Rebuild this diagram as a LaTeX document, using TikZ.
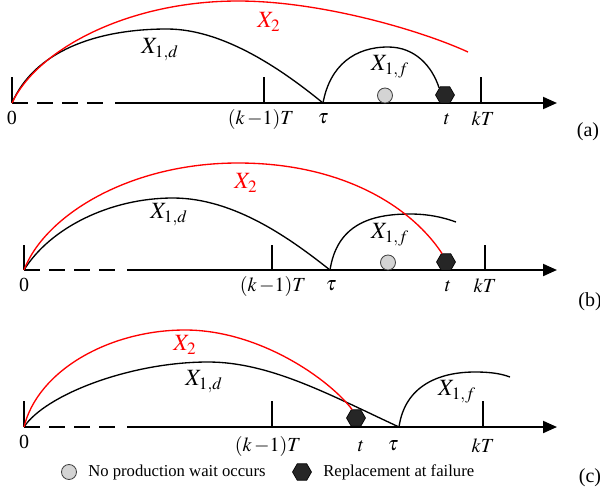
\documentclass[tikz,border=0pt]{standalone}
\usepackage{mathptmx}
\usepackage{fontspec}
\setmainfont{Liberation Serif}
\usetikzlibrary{arrows.meta,shapes.geometric}

\begin{document}
\begin{tikzpicture}[x=0.6pt, y=-0.6pt,
  axis/.style={line width=1.2pt},
  dashaxis/.style={line width=1.2pt, dash pattern=on 9.6pt off 5.4pt},
  tick/.style={line width=0.7pt},
  life/.style={line width=0.8pt},
  lifered/.style={line width=0.8pt, red},
  nowait/.style={circle, draw=black!75, fill=black!17, line width=0.5pt, minimum size=9pt, inner sep=0pt},
  repl/.style={regular polygon, regular polygon sides=6, draw, fill=black!85, line width=0.4pt, minimum size=11.4pt, inner sep=0pt},
  lbl/.style={font=\fontsize{12}{14}\selectfont, inner sep=0pt},
  curvelbl/.style={font=\fontsize{14}{16}\selectfont, inner sep=0pt},
  legend/.style={font=\fontsize{10}{12}\selectfont, anchor=west, inner sep=0pt}]
  \useasboundingbox (0,0) rectangle (600,493);

  % (a)
  \coordinate (oa) at (12,103);
  \coordinate (taua) at (323,103);
  \draw[tick] (12,77) -- (oa);
  \draw[dashaxis] (oa) -- (106,103);
  \draw[axis, -{Triangle[length=8.4pt,width=7.2pt]}] (115,103) -- (557,103);
  \draw[tick] (264,77) -- (264,103);
  \draw[tick] (481,77) -- (481,103);
  \node[nowait] (waita) at (385,95.5) {};
  \node[repl] (faila) at (445,95) {};
  \draw[life] (oa) .. controls (34,52) and (95,29) .. (167,29)
    .. controls (225,29) and (285,72) .. (taua);
  \draw[life] (taua) .. controls (330,65) and (355,47) .. (388,47)
    .. controls (415,47) and (432,66) .. (faila.130);
  \draw[lifered] (oa) .. controls (38,48) and (130,1) .. (238,1)
    .. controls (320,1) and (420,30) .. (468,52);
  \node[curvelbl, red] (x2a) at (269,22) {$X_2$};
  \node[curvelbl] (x1da) at (160,50) {$X_{1,d}$};
  \node[curvelbl] (x1fa) at (390,67) {$X_{1,f}$};
  \node[lbl] (za) at (12,118) {0};
  \node[lbl] (km1a) at (261,119) {$(k\,{-}1)T$};
  \node[lbl] (ta) at (323,119) {$\tau$};
  \node[lbl] (tta) at (447,119) {$t$};
  \node[lbl] (kta) at (483,119) {$kT$};
  \node[lbl] (capa) at (588,132) {(a)};

  % (b)
  \coordinate (ob) at (24,270);
  \coordinate (taub) at (330,270);
  \draw[tick] (24,245) -- (ob);
  \draw[dashaxis] (ob) -- (118,270);
  \draw[axis, -{Triangle[length=8.4pt,width=7.2pt]}] (127,270) -- (557,270);
  \draw[tick] (272,245) -- (272,270);
  \draw[tick] (485,245) -- (485,270);
  \node[nowait] (waitb) at (388,262.5) {};
  \node[repl] (failb) at (446,262) {};
  \draw[life] (ob) .. controls (50,228) and (110,198) .. (173,198)
    .. controls (235,198) and (292,240) .. (taub);
  \draw[life] (taub) .. controls (337,225) and (370,214) .. (410,214)
    .. controls (430,214) and (445,218) .. (456,222);
  \draw[lifered] (ob) .. controls (45,215) and (130,163) .. (238,163)
    .. controls (340,163) and (410,205) .. (failb.115);
  \node[curvelbl, red] (x2b) at (246,183) {$X_2$};
  \node[curvelbl] (x1db) at (169,215) {$X_{1,d}$};
  \node[curvelbl] (x1fb) at (390,235) {$X_{1,f}$};
  \node[lbl] (zb) at (24,285) {0};
  \node[lbl] (km1b) at (273,286) {$(k\,{-}1)T$};
  \node[lbl] (tb) at (331,286) {$\tau$};
  \node[lbl] (ttb) at (448,286) {$t$};
  \node[lbl] (ktb) at (485,286) {$kT$};
  \node[lbl] (capb) at (590,302) {(b)};

  % (c)
  \coordinate (oc) at (24,427);
  \coordinate (tauc) at (399,427);
  \draw[tick] (24,401) -- (oc);
  \draw[dashaxis] (oc) -- (118,427);
  \draw[axis, -{Triangle[length=8.4pt,width=7.2pt]}] (127,427) -- (557,427);
  \draw[tick] (272,401) -- (272,427);
  \draw[tick] (483,401) -- (483,427);
  \node[repl] (failc) at (356,418) {};
  \draw[life] (oc) .. controls (45,395) and (130,362) .. (208,362)
    .. controls (270,362) and (330,395) .. (tauc);
  \draw[life] (tauc) .. controls (405,385) and (440,372) .. (475,372)
    .. controls (492,372) and (502,374) .. (510,377);
  \draw[lifered] (oc) .. controls (38,370) and (110,330) .. (185,330)
    .. controls (260,330) and (330,380) .. (failc.115);
  \node[curvelbl, red] (x2c) at (185,345) {$X_2$};
  \node[curvelbl] (x1dc) at (204,382) {$X_{1,d}$};
  \node[curvelbl] (x1fc) at (457,392) {$X_{1,f}$};
  \node[lbl] (zc) at (24,442) {0};
  \node[lbl] (km1c) at (268,446) {$(k\,{-}1)T$};
  \node[lbl] (ttc) at (361,446) {$t$};
  \node[lbl] (tc) at (393,446) {$\tau$};
  \node[lbl] (ktc) at (483,446) {$kT$};
  \node[lbl] (capc) at (590,478) {(c)};

  \node[nowait] (legwait) at (69,472) {};
  \node[legend] (legwaittxt) at (88,472) {No production wait occurs};
  \node[repl] (legrepl) at (302,472) {};
  \node[legend] (legrepltxt) at (323,472) {Replacement at failure};
\end{tikzpicture}
\end{document}
